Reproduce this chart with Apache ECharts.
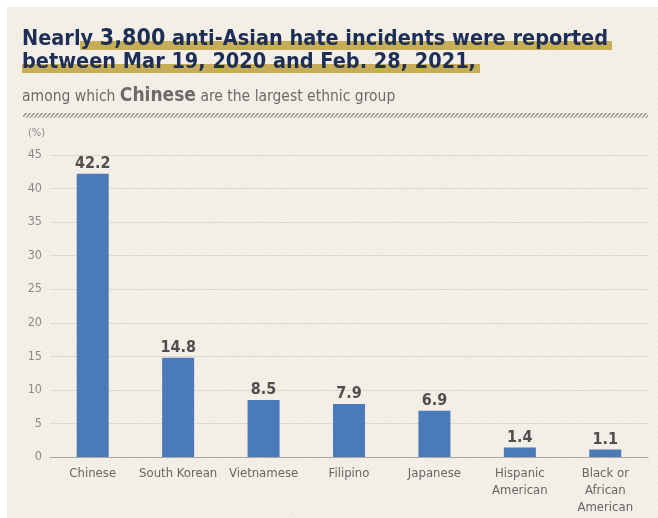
<!DOCTYPE html>
<html>
<head>
<meta charset="utf-8">
<script src="https://cdn.jsdelivr.net/npm/echarts@6/dist/echarts.min.js"></script>
<style>
  html, body { margin: 0; padding: 0; background: #fff; }
  #chart {
    position: absolute; left: 7px; top: 7px; width: 651px; height: 511px;
    background-color: #f4f0e7;
    background-image: repeating-linear-gradient(135deg, rgba(0,0,0,0.018) 0px, rgba(0,0,0,0.018) 1px, transparent 1px, transparent 4px);
  }
</style>
</head>
<body>
<div id="chart"></div>
<script>
// data
const groups = ['Chinese', 'South Korean', 'Vietnamese', 'Filipino', 'Japanese', 'Hispanic\nAmerican', 'Black or\nAfrican\nAmerican'];
const shares = [42.2, 14.8, 8.5, 7.9, 6.9, 1.4, 1.1];
const yTicks = [0, 5, 10, 15, 20, 25, 30, 35, 40, 45];

const navy = '#1d2f57';
const gold = '#c7ad55';
const grey = '#6b6b6b';
const font = '"DejaVu Sans Condensed", "Liberation Sans Narrow", "Roboto", sans-serif';

// small hatch tile for the divider
const tile = document.createElement('canvas');
tile.width = 4; tile.height = 5;
const tctx = tile.getContext('2d');
tctx.strokeStyle = '#8e8c85';
tctx.lineWidth = 1.4;
tctx.beginPath();
tctx.moveTo(0, 5); tctx.lineTo(4, 0);
tctx.stroke();

const myChart = echarts.init(document.getElementById('chart'));

const option = {
  animation: false,
  grid: { left: 43, right: 10, top: 148, bottom: 61, containLabel: false },
  graphic: [
    // highlight bars behind the title
    { type: 'rect', z: 1, shape: { x: 73, y: 34, width: 532, height: 9 }, style: { fill: gold } },
    { type: 'rect', z: 1, shape: { x: 15, y: 57, width: 458, height: 9 }, style: { fill: gold } },
    {
      type: 'text', z: 2, left: 15, top: 21,
      style: {
        text: '{a|Nearly }{b|3,800}{a| anti-Asian hate incidents were reported}\n{a|between Mar 19, 2020 and Feb. 28, 2021,}',
        lineHeight: 23,
        rich: {
          a: { fontFamily: font, fontWeight: 'bold', fontSize: 21.5, fill: navy, lineHeight: 23 },
          b: { fontFamily: font, fontWeight: 'bold', fontSize: 23, fill: navy, lineHeight: 23 }
        }
      }
    },
    {
      type: 'text', z: 2, left: 15, top: 80,
      style: {
        text: '{a|among which }{b|Chinese}{a| are the largest ethnic group}',
        rich: {
          a: { fontFamily: font, fontSize: 15.5, fill: grey },
          b: { fontFamily: font, fontWeight: 'bold', fontSize: 19, fill: grey }
        }
      }
    },
    { type: 'rect', z: 1, shape: { x: 16, y: 106, width: 625, height: 5 }, style: { fill: { image: tile, repeat: 'repeat' } } },
    {
      type: 'text', left: 21, top: 121,
      style: { text: '(%)', fontFamily: font, fontSize: 11, fill: '#8a8a8a' }
    }
  ],
  xAxis: {
    type: 'category',
    data: groups,
    axisLine: { lineStyle: { color: '#a9a7a0', width: 1 } },
    axisTick: { show: false },
    axisLabel: { color: '#666666', fontFamily: font, fontSize: 13, margin: 8, lineHeight: 17, interval: 0 }
  },
  yAxis: {
    type: 'value',
    min: 0, max: 45, interval: 5,
    axisLine: { show: false },
    axisTick: { show: false },
    splitLine: { lineStyle: { color: '#dedad0', width: 1 } },
    axisLabel: {
      color: '#8a8a8a', fontFamily: font, fontSize: 12.5, margin: 8,
      formatter: v => yTicks.includes(v) ? String(v) : ''
    }
  },
  series: [{
    type: 'bar',
    data: shares,
    barWidth: 32,
    itemStyle: { color: '#4a7ab8' },
    label: {
      show: true, position: 'top', distance: 2,
      color: '#4f4f4f', fontFamily: font, fontWeight: 'bold', fontSize: 16
    }
  }]
};

myChart.setOption(option);
</script>
</body>
</html>
